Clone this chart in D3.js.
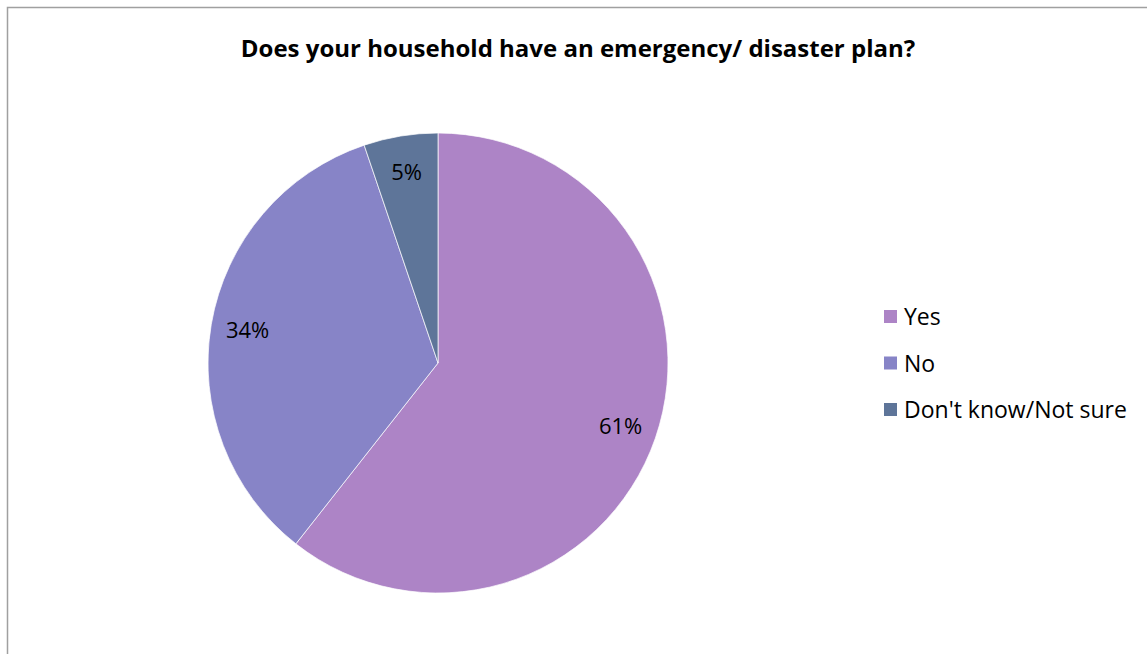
<!DOCTYPE html>
<html><head><meta charset="utf-8">
<script src="https://cdn.jsdelivr.net/npm/d3@7"></script>
<style>body{margin:0;background:#fff;} svg{display:block;}</style>
</head><body>
<svg id="c" width="1147" height="654"></svg>
<script>
const categories = ["Yes", "No", "Don't know/Not sure"];
const values = [60.6, 34.2, 5.2];
const colors = ["#AD84C6", "#8784C7", "#5E7599"];
const title = "Does your household have an emergency/ disaster plan?";

const svg = d3.select("#c");
const W = 1147, H = 654;
svg.append("rect").attr("x", 7.5).attr("y", 7.5).attr("width", W).attr("height", H)
  .attr("fill", "#fff").attr("stroke", "#a0a0a0").attr("stroke-width", 1.5);

const font = "'Open Sans', Lato, sans-serif";
svg.append("text").attr("x", 578).attr("y", 57).attr("text-anchor", "middle")
  .attr("font-family", font).attr("font-weight", "bold").attr("font-size", 24)
  .attr("fill", "#000").text(title);

const cx = 438, cy = 363, r = 230;
const pie = d3.pie().sort(null).value(d => d)(values);
const arc = d3.arc().innerRadius(0).outerRadius(r);
const g = svg.append("g").attr("transform", `translate(${cx},${cy})`);
g.selectAll("path").data(pie).join("path")
  .attr("d", arc).attr("fill", (d, i) => colors[i])
  .attr("stroke", "#fff").attr("stroke-width", 0.7);

const labelArc = d3.arc().innerRadius(r * 0.84).outerRadius(r * 0.84);
g.selectAll("text").data(pie).join("text")
  .attr("transform", d => `translate(${labelArc.centroid(d)})`)
  .attr("text-anchor", "middle").attr("dy", "0.35em")
  .attr("font-family", font).attr("font-size", 22).attr("fill", "#000")
  .text(d => Math.round(d.data) + "%");

const leg = svg.append("g");
categories.forEach((c, i) => {
  const y = 317 + i * 46.5;
  leg.append("rect").attr("x", 884).attr("y", y - 7).attr("width", 13).attr("height", 13).attr("fill", colors[i]);
  leg.append("text").attr("x", 904).attr("y", y).attr("dy", "0.35em")
    .attr("font-family", font).attr("font-size", 23).attr("fill", "#000").text(c);
});
</script>
</body></html>
